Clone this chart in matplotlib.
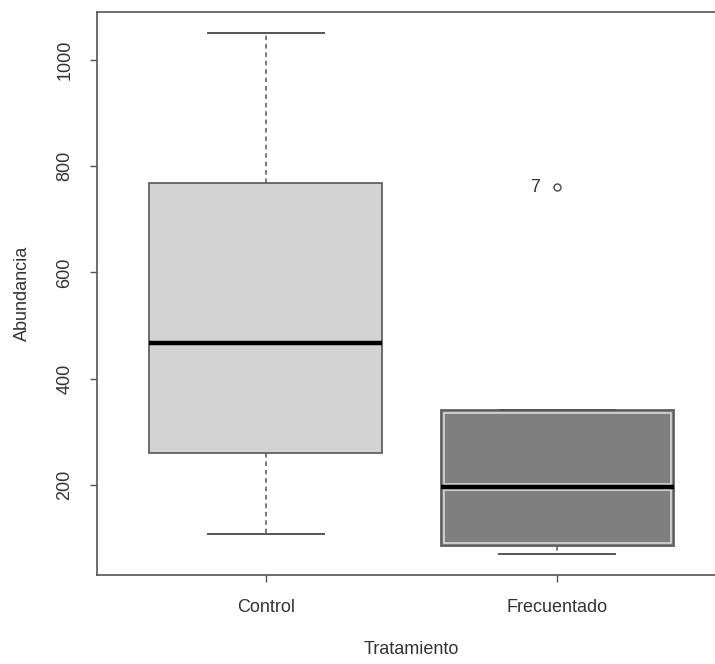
import matplotlib
matplotlib.use('Agg')
import matplotlib.pyplot as plt
from matplotlib.patches import Rectangle

# -------------------------------------------
# Data
# -------------------------------------------

groups = ['Control', 'Frecuentado']
q1 = [260, 85]
med = [468, 196]
q3 = [768, 341]
whislo = [108, 70]
whishi = [1051, 341]
fliers = [[], [760]]
flier_labels = [[], ['7']]
fills = ['#d3d3d3', '#7f7f7f']
yticks = [200, 400, 600, 800, 1000]

LINE = '#555555'
TEXT = '#333333'
FS = 13

plt.rcParams['font.family'] = ['Liberation Sans', 'DejaVu Sans']

fig = plt.figure(figsize=(7.15, 6.64), dpi=100)
ax = fig.add_axes([97 / 715, 89 / 664, 629 / 715, 563 / 664])

stats = []
for i, g in enumerate(groups):
    stats.append(dict(label=g, q1=q1[i], med=med[i], q3=q3[i],
                      whislo=whislo[i], whishi=whishi[i], fliers=fliers[i]))

pos = list(range(1, len(groups) + 1))
bp = ax.bxp(stats, positions=pos, widths=0.8, capwidths=0.4, patch_artist=True,
            boxprops=dict(edgecolor=LINE, linewidth=1.2),
            whiskerprops=dict(color=LINE, linewidth=1.1, dashes=(3, 2.5)),
            capprops=dict(color=LINE, linewidth=1.4),
            medianprops=dict(color='black', linewidth=3.2, solid_capstyle='butt'),
            flierprops=dict(marker='o', markerfacecolor='none', markeredgecolor=LINE,
                            markersize=5, markeredgewidth=1.1))
for patch, c in zip(bp['boxes'], fills):
    patch.set_facecolor(c)

ax.set_xlim(0.42, 2.58)
ax.set_ylim(30.8, 1090)

# light inner outline on the darker box (both halves)
fig.canvas.draw()
inv = ax.transData.inverted()
p0 = inv.transform((0, 0))
p1 = inv.transform((3, 3))
dx, dy = p1[0] - p0[0], p1[1] - p0[1]
i = 1
x0 = pos[i] - 0.4 + dx
w = 0.8 - 2 * dx
for lo, hi in [(q1[i], med[i]), (med[i], q3[i])]:
    ax.add_patch(Rectangle((x0, lo + dy), w, hi - lo - 2 * dy, fill=False,
                           edgecolor='#e2e2e2', linewidth=1.1, zorder=3))
bp['medians'][i].set_zorder(4)

# outlier labels
for i, (vals, labs) in enumerate(zip(fliers, flier_labels)):
    for v, lab in zip(vals, labs):
        ax.annotate(lab, (pos[i], v), xytext=(-12, 0), textcoords='offset points',
                    ha='right', va='center', fontsize=FS, color=TEXT)

ax.set_yticks(yticks)
ax.set_yticklabels([str(t) for t in yticks], rotation=90, va='center')
ax.set_xticks(pos)
ax.set_xticklabels(groups)
ax.tick_params(axis='both', colors=LINE, labelcolor=TEXT, labelsize=FS,
               length=5, width=1)
ax.tick_params(axis='y', pad=12)
ax.tick_params(axis='x', pad=12)

ax.set_xlabel('Tratamiento', fontsize=FS, color=TEXT, labelpad=18)
ax.set_ylabel('Abundancia', fontsize=FS, color=TEXT, labelpad=18)

for s in ax.spines.values():
    s.set_color(LINE)
    s.set_linewidth(1.2)

fig.savefig('out.png', dpi=100)
